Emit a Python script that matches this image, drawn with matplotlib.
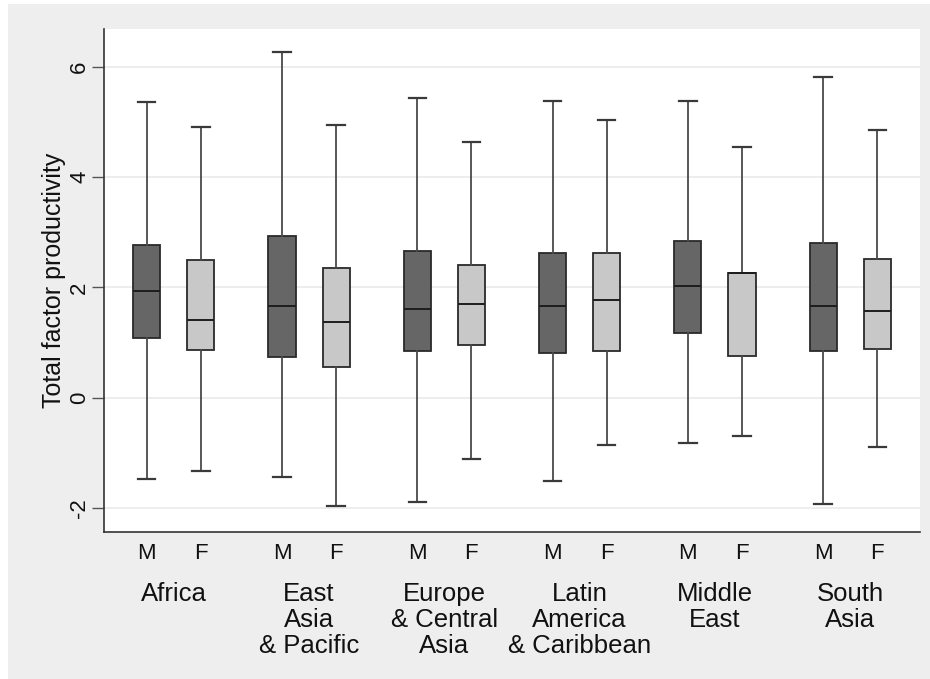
import matplotlib
matplotlib.use("Agg")
import matplotlib.pyplot as plt
from matplotlib.patches import Rectangle

plt.rcParams['font.family'] = ['Liberation Sans', 'DejaVu Sans']

regions = ["Africa", "East\nAsia\n& Pacific", "Europe\n& Central\nAsia",
           "Latin\nAmerica\n& Caribbean", "Middle\nEast", "South\nAsia"]
genders = ["M", "F"]

# per region: [M, F]
whis_hi = [[5.37, 4.91], [6.28, 4.95], [5.44, 4.64], [5.39, 5.03], [5.38, 4.54], [5.81, 4.85]]
q3 = [[2.77, 2.49], [2.94, 2.35], [2.66, 2.41], [2.62, 2.62], [2.84, 2.26], [2.80, 2.52]]
med = [[1.93, 1.41], [1.66, 1.38], [1.61, 1.69], [1.66, 1.77], [2.03, 2.26], [1.66, 1.57]]
q1 = [[1.08, 0.87], [0.74, 0.56], [0.84, 0.95], [0.81, 0.85], [1.17, 0.75], [0.84, 0.89]]
whis_lo = [[-1.47, -1.34], [-1.45, -1.96], [-1.89, -1.12], [-1.51, -0.86], [-0.83, -0.70], [-1.94, -0.90]]

yticks = [-2, 0, 2, 4, 6]
ylabel = "Total factor productivity"

fill_colors = {"M": "#666666", "F": "#c8c8c8"}

fig = plt.figure(figsize=(9.3, 6.79), dpi=100, facecolor="white")
fig.patches.append(Rectangle((8 / 930, 0), 1 - 8 / 930, 1 - 4 / 679,
                             transform=fig.transFigure, facecolor="#eeeeee",
                             edgecolor="none", zorder=-10))

ax = fig.add_axes([104 / 930, 1 - 532 / 679, (920 - 104) / 930, (532 - 29) / 679])
ax.set_facecolor("white")

group_step = 2.5
offset = 1.0
for g, region in enumerate(regions):
    for k, gender in enumerate(genders):
        pos = g * group_step + k * offset
        stats = [dict(med=med[g][k], q1=q1[g][k], q3=q3[g][k],
                      whislo=whis_lo[g][k], whishi=whis_hi[g][k], fliers=[])]
        ax.bxp(stats, positions=[pos], widths=0.5, patch_artist=True,
               showfliers=False, manage_ticks=False,
               boxprops=dict(facecolor=fill_colors[gender], edgecolor="#2a2a2a", linewidth=1.3),
               medianprops=dict(color="#1e1e1e", linewidth=1.4),
               whiskerprops=dict(color="#4a4a4a", linewidth=1.3),
               capprops=dict(color="#3a3a3a", linewidth=1.6),
               capwidths=0.32)

positions = []
labels = []
for g in range(len(regions)):
    for k, gender in enumerate(genders):
        positions.append(g * group_step + k * offset)
        labels.append(gender)
ax.set_xticks(positions)
ax.set_xticklabels(labels, fontsize=16, color="#111111")
ax.tick_params(axis="x", length=0, pad=8)

for g, region in enumerate(regions):
    ax.annotate(region, xy=(g * group_step + offset / 2, 0), xycoords=("data", "axes fraction"),
                xytext=(0, -36), textcoords="offset points", ha="center", va="top",
                fontsize=18.5, linespacing=1.1, color="#111111", annotation_clip=False)

ax.set_xlim(-0.79, (len(regions) - 1) * group_step + offset + 0.79)
ax.set_ylim(-2.44, 6.69)
ax.set_yticks(yticks)
ax.set_yticklabels([str(t) for t in yticks], rotation=90, va="center", fontsize=16, color="#111111")
ax.tick_params(axis="y", length=9, width=1.0, color="#555555", pad=1)
ax.set_ylabel(ylabel, fontsize=18, color="#111111", labelpad=2)

ax.grid(axis="y", color="#eaeaea", linewidth=1.2)
ax.set_axisbelow(True)
for s in ["top", "right"]:
    ax.spines[s].set_visible(False)
for s in ["left", "bottom"]:
    ax.spines[s].set_color("#333333")
    ax.spines[s].set_linewidth(1.2)

fig.savefig("out.png", dpi=100, facecolor=fig.get_facecolor())
